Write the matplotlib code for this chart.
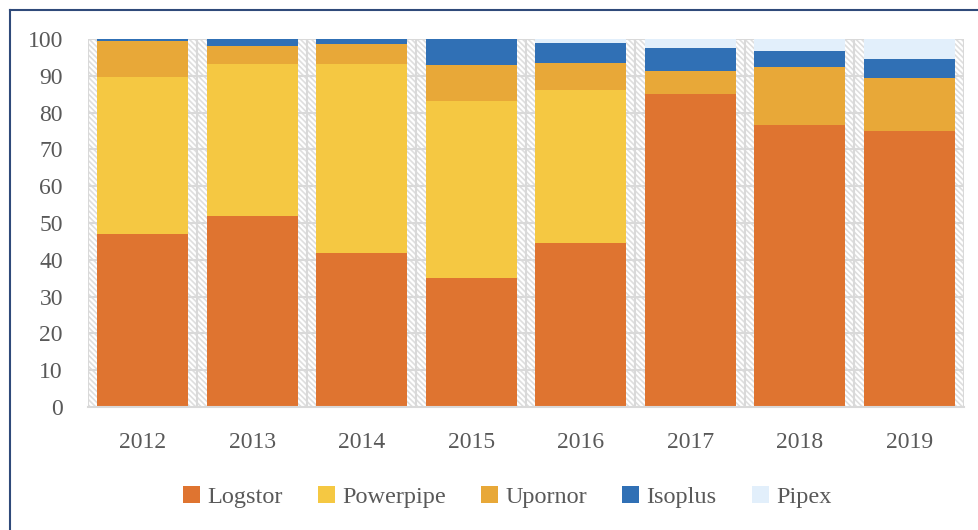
import numpy as np
import matplotlib
matplotlib.use("Agg")
import matplotlib.pyplot as plt
from matplotlib.patches import Rectangle
from matplotlib.lines import Line2D

# data (share in %)
years = ["2012", "2013", "2014", "2015", "2016", "2017", "2018", "2019"]
logstor = [47.0, 51.9, 41.8, 35.0, 44.6, 85.1, 76.6, 75.1]
powerpipe = [42.6, 41.3, 51.4, 48.2, 41.5, 0.0, 0.0, 0.0]
upornor = [9.9, 4.8, 5.4, 9.7, 7.4, 6.2, 15.8, 14.2]
isoplus = [0.5, 2.0, 1.4, 7.1, 5.4, 6.3, 4.3, 5.3]
pipex = [0.0, 0.0, 0.0, 0.0, 1.1, 2.4, 3.3, 5.4]

series = [("Logstor", logstor, "#DF7430"),
          ("Powerpipe", powerpipe, "#F5C842"),
          ("Upornor", upornor, "#E8A838"),
          ("Isoplus", isoplus, "#3070B5"),
          ("Pipex", pipex, "#E2EFFB")]

plt.rcParams["font.family"] = ["Liberation Serif", "DejaVu Serif"]
plt.rcParams["hatch.linewidth"] = 1.2
text_col = "#595959"
grid_col = "#d9d9d9"

fig = plt.figure(figsize=(9.79, 5.30), dpi=100)
ax = fig.add_axes([88 / 979, 1 - 407 / 530, 876 / 979, 368 / 530])

x = np.arange(len(years))
n = len(years)
ax.set_xlim(-0.5, n - 0.5)
ax.set_ylim(0, 100)

# hatched plot background
ax.add_patch(Rectangle((-0.5, 0), n, 100, facecolor="white", edgecolor="#dedede",
                       linewidth=0, hatch="\\\\\\\\\\\\", zorder=0))

# grid: horizontal every 10, vertical at category boundaries
for yv in range(10, 101, 10):
    ax.axhline(yv, color=grid_col, lw=1.5, zorder=1)
for xv in np.arange(-0.5, n, 1.0):
    ax.axvline(xv, color=grid_col, lw=1.5, zorder=1)

bottom = np.zeros(n)
for name, vals, col in series:
    vals = np.array(vals)
    ax.bar(x, vals, width=0.83, bottom=bottom, color=col, label=name,
           edgecolor="none", zorder=2)
    bottom += vals

for s in ["top", "right", "left"]:
    ax.spines[s].set_visible(False)
ax.spines["bottom"].set_color(grid_col)
ax.spines["bottom"].set_linewidth(1.5)

ax.set_xticks(x)
ax.set_xticklabels(years)
ax.set_yticks(range(0, 101, 10))
ax.tick_params(axis="both", length=0, labelsize=17, labelcolor=text_col)
ax.tick_params(axis="x", pad=18)
ax.tick_params(axis="y", pad=18)

leg = fig.legend(loc="center", bbox_to_anchor=(507 / 979, 1 - 497 / 530), ncol=5,
                 frameon=False, fontsize=17.5, handlelength=0.7, handleheight=0.7,
                 handletextpad=0.3, columnspacing=1.45)
for t in leg.get_texts():
    t.set_color(text_col)

# navy frame around the figure (left and top edges visible)
frame_col = "#2F4A7A"
fig.add_artist(Line2D([10 / 979, 10 / 979], [0, 1 - 10 / 530], color=frame_col,
                      lw=1.5, transform=fig.transFigure))
fig.add_artist(Line2D([10 / 979, 1], [1 - 10 / 530, 1 - 10 / 530], color=frame_col,
                      lw=1.5, transform=fig.transFigure))

fig.savefig("out.png", dpi=100)
